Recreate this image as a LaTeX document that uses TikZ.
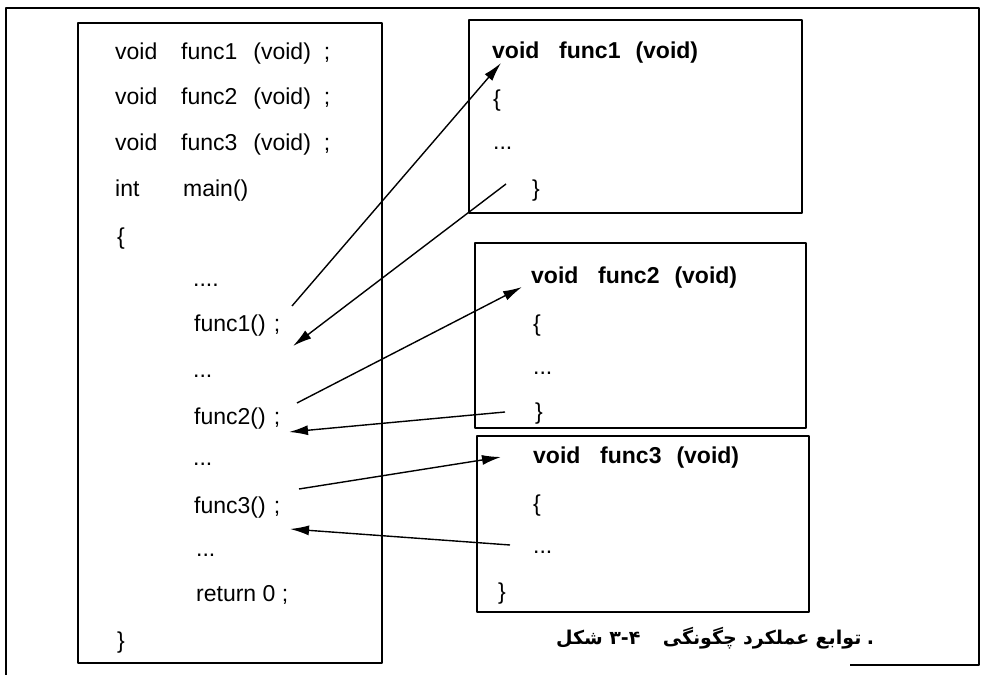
\documentclass[tikz,border=0pt]{standalone}
\usepackage{fontspec}
\setmainfont{Liberation Sans}
\newfontfamily\arabicfont[Script=Arabic]{DejaVu Sans}
\TeXXeTstate=1
\usetikzlibrary{arrows.meta,positioning}

\begin{document}
\begin{tikzpicture}[>={Latex[length=19bp,width=10bp]},line join=bevel,
  codeline/.style={anchor=west,inner sep=0pt,font=\fontsize{23bp}{26bp}\selectfont,text height=17bp,text depth=4bp},
  headline/.style={codeline,font=\fontsize{23bp}{26bp}\selectfont\bfseries},
  funcbox/.style={draw,line width=2.5bp,inner sep=0pt},
  captext/.style={inner sep=0pt,font=\arabicfont\bfseries\fontsize{19bp}{22bp}\selectfont},
  callflow/.style={->,line width=1.4bp}]
  \useasboundingbox (0bp,0bp) rectangle (986bp,675bp);
%%
  % Frame
  \draw [line width=1.8bp] (6bp,0bp) -- (6bp,667bp) -- (979bp,667bp) -- (979bp,10bp) -- (850bp,10bp);
  % Node: main
  \node [funcbox,minimum width=304bp,minimum height=640bp] (main) at (230bp,332bp) {};
  \node [codeline] (m1) at (115bp,622bp) {\makebox[66bp][l]{void}func1\hspace{16bp}(void)\hspace{13bp};};
  \node [codeline] (m2) at (115bp,577bp) {\makebox[66bp][l]{void}func2\hspace{16bp}(void)\hspace{13bp};};
  \node [codeline] (m3) at (115bp,531bp) {\makebox[66bp][l]{void}func3\hspace{16bp}(void)\hspace{13bp};};
  \node [codeline] (m4) at (115bp,485bp) {\makebox[68bp][l]{int}main()};
  \node [codeline] (m5) at (117bp,437bp) {\{};
  \node [codeline] (m6) at (193bp,395bp) {....};
  \node [codeline] (call1) at (194bp,350bp) {func1()\hspace{8bp};};
  \node [codeline] (m8) at (193bp,304bp) {...};
  \node [codeline] (call2) at (194bp,257bp) {func2()\hspace{8bp};};
  \node [codeline] (m10) at (193bp,216bp) {...};
  \node [codeline] (call3) at (194bp,168bp) {func3()\hspace{8bp};};
  \node [codeline] (m12) at (196bp,125bp) {...};
  \node [codeline] (m13) at (196bp,80bp) {return 0 ;};
  \node [codeline] (m14) at (117bp,33bp) {\}};
  % Node: func1
  \node [funcbox,minimum width=333bp,minimum height=193bp] (func1) at (635.5bp,558.5bp) {};
  \node [headline] (f1a) at (492bp,623bp) {\makebox[67bp][l]{void}func1\hspace{15bp}(void)};
  \node [codeline] (f1b) at (493bp,575bp) {\{};
  \node [codeline] (f1c) at (493bp,532bp) {...};
  \node [codeline] (f1d) at (532bp,485bp) {\}};
  % Node: func2
  \node [funcbox,minimum width=331bp,minimum height=185bp] (func2) at (640.5bp,339.5bp) {};
  \node [headline] (f2a) at (531bp,398bp) {\makebox[67bp][l]{void}func2\hspace{15bp}(void)};
  \node [codeline] (f2b) at (533bp,350bp) {\{};
  \node [codeline] (f2c) at (533bp,307bp) {...};
  \node [codeline] (f2d) at (535bp,262bp) {\}};
  % Node: func3
  \node [funcbox,minimum width=332bp,minimum height=176bp] (func3) at (643bp,151bp) {};
  \node [headline] (f3a) at (533bp,218bp) {\makebox[67bp][l]{void}func3\hspace{15bp}(void)};
  \node [codeline] (f3b) at (533bp,170bp) {\{};
  \node [codeline] (f3c) at (533bp,128bp) {...};
  \node [codeline] (f3d) at (498bp,82bp) {\}};
  % Caption
  \node [captext,anchor=base west] (cap1) at (556bp,31bp) {\beginR شکل\endR};
  \node [captext,base right=6bp of cap1] (cap2) {۳-۴};
  \node [captext,base right=22bp of cap2] (cap3) {\beginR چگونگی\endR};
  \node [captext,base right=6bp of cap3] (cap4) {\beginR عملکرد\endR};
  \node [captext,base right=6bp of cap4] (cap5) {\beginR توابع\endR};
  \node [captext,base right=5bp of cap5] (cap6) {.};
%%
  \coordinate (go1) at (292bp,369bp);  \coordinate (in1) at (501bp,612bp);
  \coordinate (out1) at (506bp,491bp); \coordinate (back1) at (293bp,329bp);
  \coordinate (go2) at (297bp,272bp);  \coordinate (in2) at (522bp,388bp);
  \coordinate (out2) at (505bp,263bp); \coordinate (back2) at (289bp,243bp);
  \coordinate (go3) at (299bp,186bp);  \coordinate (in3) at (501bp,218bp);
  \coordinate (out3) at (510bp,130bp); \coordinate (back3) at (290bp,146bp);
  % Edge: call1 -> func1
  \draw [callflow] (go1) -- (in1);
  % Edge: func1 -> call1
  \draw [callflow] (out1) -- (back1);
  % Edge: call2 -> func2
  \draw [callflow] (go2) -- (in2);
  % Edge: func2 -> call2
  \draw [callflow] (out2) -- (back2);
  % Edge: call3 -> func3
  \draw [callflow] (go3) -- (in3);
  % Edge: func3 -> call3
  \draw [callflow] (out3) -- (back3);
%
\end{tikzpicture}
\end{document}
